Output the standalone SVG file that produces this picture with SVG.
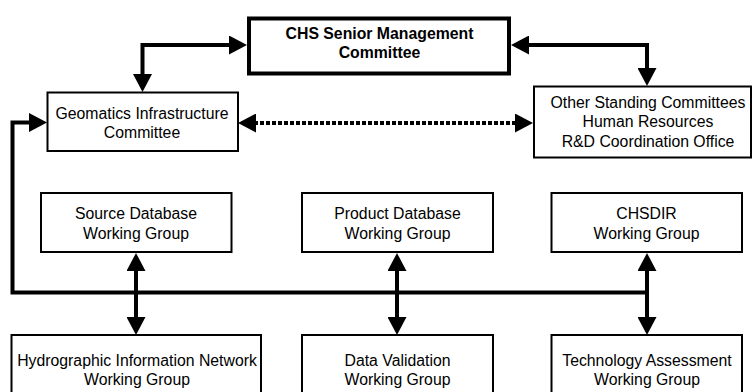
<svg xmlns="http://www.w3.org/2000/svg" width="753" height="392" viewBox="0 0 753 392">
  <style>
    .box { fill: #ffffff; stroke: #000000; stroke-width: 2; }
    .main { fill: #ffffff; stroke: #000000; stroke-width: 4; }
    text { font-family: "Liberation Sans", Arial, sans-serif; font-size: 15.8px; fill: #000000; text-anchor: middle; }
    .bold { font-weight: bold; }
    .conn { fill: none; stroke: #000000; stroke-width: 4; }
    .dot { stroke-dasharray: 4 2; }
  </style>
  <defs>
    <marker id="ah" markerUnits="userSpaceOnUse" viewBox="0 0 18 19" refX="8" refY="9.5" markerWidth="18" markerHeight="19" orient="auto-start-reverse">
      <path d="M0,0 L18,9.5 L0,19 Z" fill="#000000"/>
    </marker>
  </defs>
  <rect width="753" height="392" fill="#ffffff"/>

  <g id="connectors">
    <path class="conn" d="M142.5,82 V45 H237" marker-start="url(#ah)" marker-end="url(#ah)"/>
    <path class="conn" d="M521,45 H647 V76" marker-start="url(#ah)" marker-end="url(#ah)"/>
    <path class="conn dot" d="M248,123 H523" marker-start="url(#ah)" marker-end="url(#ah)"/>
    <path class="conn" d="M647,292.5 H12.5 V122.5 H37" marker-end="url(#ah)"/>
    <path class="conn" d="M136,263 V325" marker-start="url(#ah)" marker-end="url(#ah)"/>
    <path class="conn" d="M397,263 V325" marker-start="url(#ah)" marker-end="url(#ah)"/>
    <path class="conn" d="M647,263 V325" marker-start="url(#ah)" marker-end="url(#ah)"/>
  </g>

  <g id="senior">
    <rect class="main" x="249" y="18.5" width="260" height="55"/>
    <text class="bold" x="379.5" y="38.5">CHS Senior Management</text>
    <text class="bold" x="379.5" y="57.5">Committee</text>
  </g>

  <g id="geomatics">
    <rect class="box" x="47.5" y="92.5" width="190.5" height="58.5"/>
    <text x="142" y="119.3">Geomatics Infrastructure</text>
    <text x="142" y="138.3">Committee</text>
  </g>

  <g id="other">
    <rect class="box" x="534" y="86.5" width="217" height="71"/>
    <text x="648" y="108.3">Other Standing Committees</text>
    <text x="648" y="127.3">Human Resources</text>
    <text x="648" y="146.5">R&amp;D Coordination Office</text>
  </g>

  <g id="source">
    <rect class="box" x="41" y="193" width="190.5" height="59"/>
    <text x="136" y="219">Source Database</text>
    <text x="136" y="238.5">Working Group</text>
  </g>

  <g id="product">
    <rect class="box" x="302" y="193" width="191" height="59"/>
    <text x="397.5" y="219">Product Database</text>
    <text x="397.5" y="238.5">Working Group</text>
  </g>

  <g id="chsdir">
    <rect class="box" x="551.5" y="193" width="190.5" height="59"/>
    <text x="646.5" y="219">CHSDIR</text>
    <text x="646.5" y="238.5">Working Group</text>
  </g>

  <g id="hydro">
    <rect class="box" x="11.5" y="335" width="249.5" height="70"/>
    <text x="137" y="366.3">Hydrographic Information Network</text>
    <text x="137" y="385.3">Working Group</text>
  </g>

  <g id="validation">
    <rect class="box" x="302" y="335" width="191" height="70"/>
    <text x="397.5" y="366.3">Data Validation</text>
    <text x="397.5" y="385.3">Working Group</text>
  </g>

  <g id="technology">
    <rect class="box" x="551.5" y="335" width="190.5" height="70"/>
    <text x="647" y="366.3">Technology Assessment</text>
    <text x="647" y="385.3">Working Group</text>
  </g>
</svg>
